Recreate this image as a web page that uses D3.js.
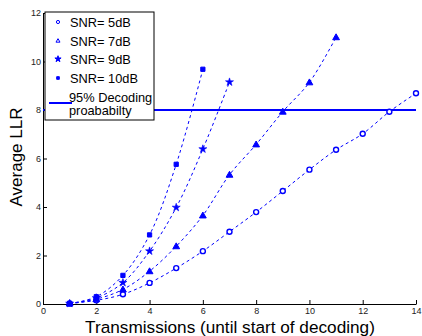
<!DOCTYPE html>
<html><head><meta charset="utf-8">
<script src="https://cdn.jsdelivr.net/npm/d3@7"></script>
<style>body{margin:0;background:#fff}svg{display:block;font-family:"Liberation Sans",Arial,sans-serif}</style>
</head><body>
<svg id="c" width="422" height="336"></svg>
<script>
const x5 = [1,2,3,4,5,6,7,8,9,10,11,12,13,14];
const y5 = [0.02,0.15,0.4,0.87,1.48,2.18,2.98,3.79,4.66,5.54,6.36,7.02,7.93,8.69];
const x7 = [1,2,3,4,5,6,7,8,9,10,11];
const y7 = [0.02,0.2,0.6,1.35,2.38,3.65,5.33,6.58,7.93,9.14,11.0];
const x9 = [1,2,3,4,5,6,7];
const y9 = [0.02,0.25,0.88,2.18,3.98,6.39,9.15];
const x10 = [1,2,3,4,5,6];
const y10 = [0.02,0.3,1.18,2.85,5.76,9.68];
const threshold = 8;
const xTicks = [0,2,4,6,8,10,12,14];
const yTicks = [0,2,4,6,8,10,12];
const labels = ["SNR= 5dB","SNR= 7dB","SNR= 9dB","SNR= 10dB"];
const thresholdLabel = ["95% Decoding","proababilty"];
const symbols = ["circle","triangle","star","square"];

const svg = d3.select("#c");
const blue = "#0000ff";
const x = d3.scaleLinear().domain([0,14]).range([43,416]);
const y = d3.scaleLinear().domain([0,12]).range([304,13]);

const gx = svg.append("g").attr("transform","translate(0,304)")
  .call(d3.axisBottom(x).tickValues(xTicks).tickSizeInner(-4).tickSizeOuter(0).tickPadding(4));
const gy = svg.append("g").attr("transform","translate(43,0)")
  .call(d3.axisLeft(y).tickValues(yTicks).tickSizeInner(-4).tickSizeOuter(0).tickPadding(2));
[gx,gy].forEach(g=>{
  g.select(".domain").attr("stroke","#000").attr("stroke-width",1);
  g.selectAll(".tick line").attr("stroke","#000");
  g.selectAll("text").attr("font-size",9).attr("fill","#222").attr("font-family","Liberation Sans, Arial, sans-serif");
});

svg.append("line").attr("x1",x(0)).attr("x2",x(14)).attr("y1",y(threshold)).attr("y2",y(threshold))
  .attr("stroke",blue).attr("stroke-width",2);

const series = [[x5,y5],[x7,y7],[x9,y9],[x10,y10]];
const line = d3.line().x(d=>x(d[0])).y(d=>y(d[1])).curve(d3.curveCatmullRom.alpha(0.5));

function marker(g, sym, cx, cy){
  if(sym==="circle"){
    g.append("circle").attr("cx",cx).attr("cy",cy).attr("r",2.5).attr("fill","#fff").attr("stroke",blue).attr("stroke-width",1.4);
  } else if(sym==="triangle"){
    g.append("path").attr("d",d3.symbol(d3.symbolTriangle,20)()).attr("transform",`translate(${cx},${cy+0.5})`)
      .attr("fill",blue).attr("stroke",blue).attr("stroke-width",1);
  } else if(sym==="star"){
    g.append("path").attr("d",d3.symbol(d3.symbolStar,20)()).attr("transform",`translate(${cx},${cy})`)
      .attr("fill",blue).attr("stroke",blue).attr("stroke-width",0.6);
  } else {
    g.append("path").attr("d",d3.symbol(d3.symbolSquare,18)()).attr("transform",`translate(${cx},${cy})`)
      .attr("fill",blue).attr("stroke",blue).attr("stroke-width",1);
  }
}

series.forEach((s,i)=>{
  const pts = s[0].map((v,j)=>[v,s[1][j]]);
  svg.append("path").datum(pts).attr("d",line).attr("fill","none").attr("stroke",blue)
    .attr("stroke-width",1).attr("stroke-dasharray","3,3");
  const g = svg.append("g");
  pts.forEach(p=>marker(g,symbols[i],x(p[0]),y(p[1])));
});

// legend
const lg = svg.append("g");
lg.append("rect").attr("x",45).attr("y",12).attr("width",109).attr("height",108)
  .attr("fill","#fff").attr("stroke","#000").attr("stroke-width",1);
const rows = [22,41,59,78];
labels.forEach((t,i)=>{
  const cy = rows[i];
  if(symbols[i]==="circle") lg.append("circle").attr("cx",58).attr("cy",cy).attr("r",1.6).attr("fill","#fff").attr("stroke",blue).attr("stroke-width",1);
  else lg.append("path").attr("d",d3.symbol(symbols[i]==="triangle"?d3.symbolTriangle:symbols[i]==="star"?d3.symbolStar:d3.symbolSquare,symbols[i]==="star"?12:7)())
    .attr("transform",`translate(58,${cy})`).attr("fill",symbols[i]==="triangle"?"#fff":blue).attr("stroke",blue).attr("stroke-width",1);
  lg.append("text").attr("x",70).attr("y",cy+4.5).attr("font-size",12.8).attr("fill","#000").text(t);
});
lg.append("line").attr("x1",49).attr("x2",72).attr("y1",103).attr("y2",103).attr("stroke",blue).attr("stroke-width",2);
lg.append("text").attr("x",69).attr("y",101.5).attr("font-size",12.8).attr("fill","#000").text(thresholdLabel[0]);
lg.append("text").attr("x",69).attr("y",115).attr("font-size",12.8).attr("fill","#000").text(thresholdLabel[1]);

svg.append("text").attr("x",230).attr("y",333).attr("text-anchor","middle").attr("font-size",17.2).attr("fill","#000")
  .text("Transmissions (until start of decoding)");
svg.append("text").attr("transform","translate(22,157) rotate(-90)").attr("text-anchor","middle").attr("font-size",17).attr("fill","#000")
  .text("Average LLR");
</script>
</body></html>
